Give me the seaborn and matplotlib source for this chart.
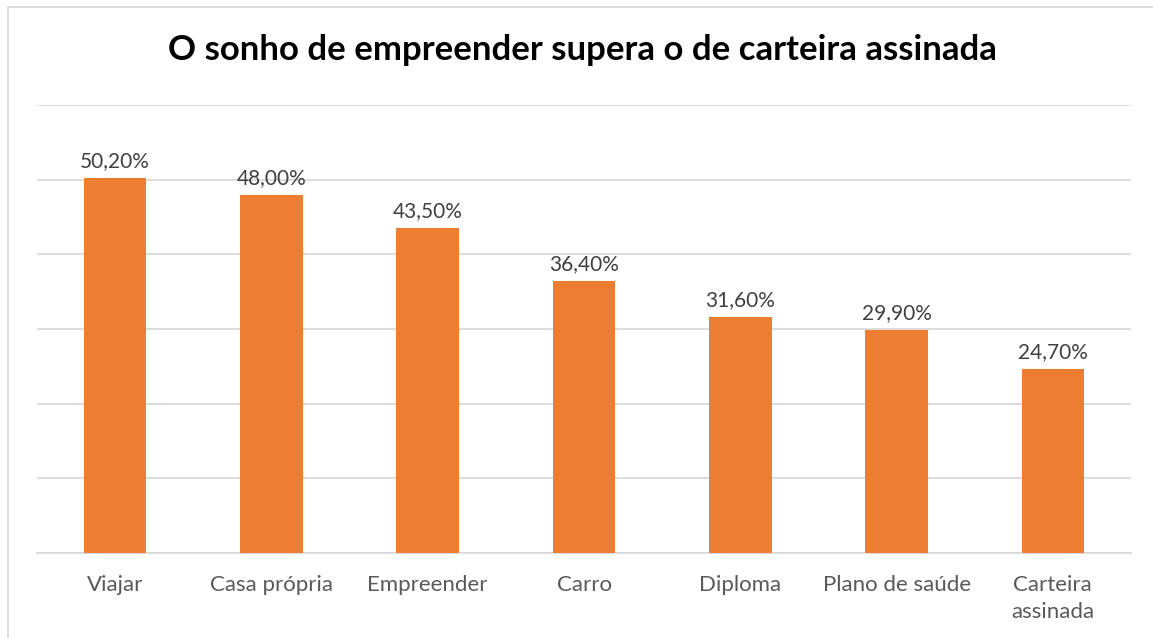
import matplotlib
matplotlib.use("Agg")
import matplotlib.pyplot as plt
import seaborn as sns
import pandas as pd
from matplotlib.lines import Line2D

categories = ["Viajar", "Casa própria", "Empreender", "Carro", "Diploma", "Plano de saúde", "Carteira\nassinada"]
values = [50.2, 48.0, 43.5, 36.4, 31.6, 29.9, 24.7]
labels = ["50,20%", "48,00%", "43,50%", "36,40%", "31,60%", "29,90%", "24,70%"]
title = "O sonho de empreender supera o de carteira assinada"

sns.set_theme(style="white")
plt.rcParams['font.family'] = ['Lato', 'DejaVu Sans']

df = pd.DataFrame({"cat": categories, "val": values})

W, H = 1153, 638
fig = plt.figure(figsize=(W / 100, H / 100), dpi=100)
ax = fig.add_axes([37 / W, 1 - 553 / H, (1131 - 37) / W, (553 - 105) / H])

sns.barplot(data=df, x="cat", y="val", color="#ED7D31", width=0.4, saturation=1,
            linewidth=0, ax=ax, zorder=3)

ax.set_ylim(0, 60)
ax.set_yticks(range(0, 61, 10))
ax.yaxis.grid(True, color="#D9D9D9", linewidth=1.3, zorder=0)
ax.set_yticklabels([])
ax.tick_params(axis="y", length=0)
ax.tick_params(axis="x", length=0, pad=16, labelsize=16, labelcolor="#595959")
for t in ax.get_xticklabels():
    t.set_linespacing(1.4)
ax.set_xlabel("")
ax.set_ylabel("")
for s in ["top", "right", "left"]:
    ax.spines[s].set_visible(False)
ax.spines["bottom"].set_color("#D9D9D9")
ax.spines["bottom"].set_linewidth(1.3)
ax.set_xlim(-0.5, len(categories) - 0.5)

for i, (v, lab) in enumerate(zip(values, labels)):
    ax.annotate(lab, (i, v), xytext=(0, 5), textcoords="offset points",
                ha="center", va="bottom", fontsize=15, color="#404040")

fig.text(582 / W, 1 - 50 / H, title, ha="center", va="center",
         fontsize=25, fontweight="bold", color="black")

fig.add_artist(Line2D([8 / W, 8 / W], [0, 1 - 7 / H], transform=fig.transFigure, color="#D9D9D9", lw=1.3))
fig.add_artist(Line2D([8 / W, 1], [1 - 7 / H, 1 - 7 / H], transform=fig.transFigure, color="#D9D9D9", lw=1.3))

fig.savefig("out.png", dpi=100)
